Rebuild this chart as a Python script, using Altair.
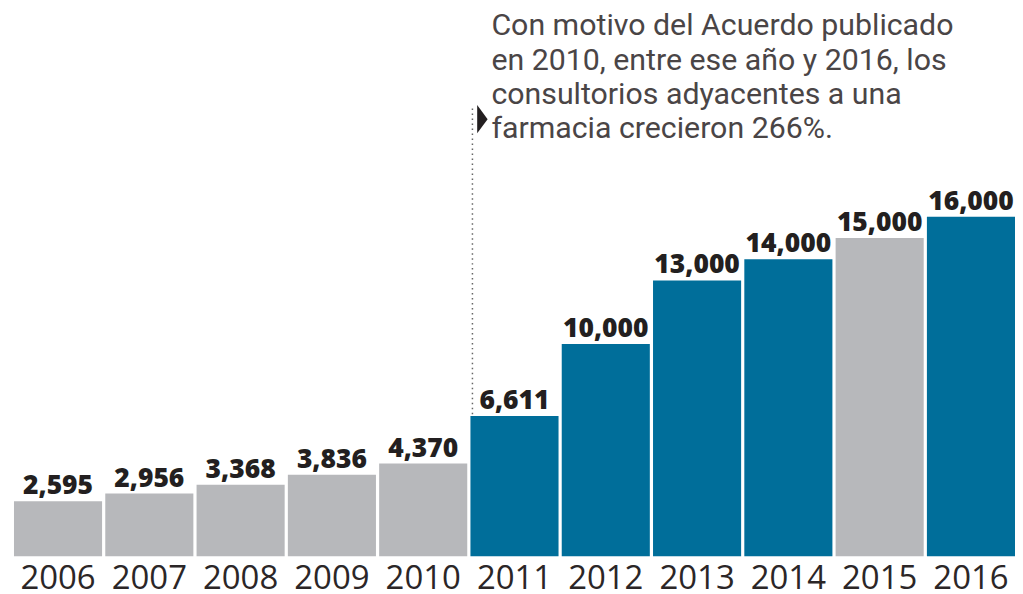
import altair as alt
import pandas as pd

years = ["2006", "2007", "2008", "2009", "2010", "2011", "2012", "2013", "2014", "2015", "2016"]
values = [2595, 2956, 3368, 3836, 4370, 6611, 10000, 13000, 14000, 15000, 16000]
labels = ["2,595", "2,956", "3,368", "3,836", "4,370", "6,611", "10,000", "13,000", "14,000", "15,000", "16,000"]
groups = ["gris", "gris", "gris", "gris", "gris", "azul", "azul", "azul", "azul", "gris", "azul"]

note_lines = ["Con motivo del Acuerdo publicado", "en 2010, entre ese año y 2016, los",
              "consultorios adyacentes a una", "farmacia crecieron 266%."]
note_year = "2011"
note_top = 21100
note_marker = 20600
note_text_y = 24550

df = pd.DataFrame({"year": years, "value": values, "label": labels, "group": groups})
yscale = alt.Scale(domain=[0, 25800])
xscale = alt.Scale(paddingInner=0.035, paddingOuter=0)
xaxis = alt.Axis(orient="bottom", domain=False, ticks=False, tickSize=0, labelAngle=0, grid=False,
                 labelFont="Open Sans", labelFontSize=33, labelColor="#2b2627",
                 labelPadding=32, labelBaseline="alphabetic")

x = alt.X("year:N", sort=years, title=None, scale=xscale, axis=xaxis)
y = alt.Y("value:Q", scale=yscale, axis=None)

bars = alt.Chart(df).mark_bar().encode(
    x=x, y=y,
    color=alt.Color("group:N", scale=alt.Scale(domain=["gris", "azul"], range=["#b7b8bb", "#006e9a"]), legend=None),
)

vals = alt.Chart(df).mark_text(font="Open Sans", fontWeight=800, fontSize=26.5,
                               baseline="alphabetic", dy=-7, color="#231f20").encode(
    x=x, y=y, text="label:N")

ann = pd.DataFrame({"year": [note_year], "top": [note_top], "bottom": [values[years.index(note_year)]],
                    "marker": [note_marker], "ty": [note_text_y]})

xa = alt.X("year:N", sort=years, title=None, bandPosition=0, scale=xscale, axis=xaxis)

rule = alt.Chart(ann).mark_rule(color="#666", strokeDash=[1.5, 3.5], strokeWidth=1.5, xOffset=2).encode(
    x=xa, y=alt.Y("top:Q", scale=yscale, axis=None), y2="bottom:Q")

marker = alt.Chart(ann).mark_point(shape="M-0.37,-1L0.37,0L-0.37,1Z", filled=True, color="#231f20",
                                   size=800, opacity=1, xOffset=12, strokeWidth=0).encode(
    x=xa, y=alt.Y("marker:Q", scale=yscale, axis=None))

note = alt.Chart(ann).mark_text(font="Roboto", fontSize=30.4, align="left", baseline="alphabetic",
                                lineHeight=34.3, color="#4a4546", dx=21).encode(
    x=xa, y=alt.Y("ty:Q", scale=yscale, axis=None),
    text=alt.value(note_lines))

chart = alt.layer(bars, vals, rule, marker, note).properties(
    width=1004, height=549,
    background="white",
    autosize=alt.AutoSizeParams(type="none"),
    padding={"left": 6, "top": 0, "right": 0, "bottom": 40},
).configure_view(strokeWidth=0, stroke="transparent")

chart.save("out.html", embed_options={"renderer": "svg", "actions": False})
